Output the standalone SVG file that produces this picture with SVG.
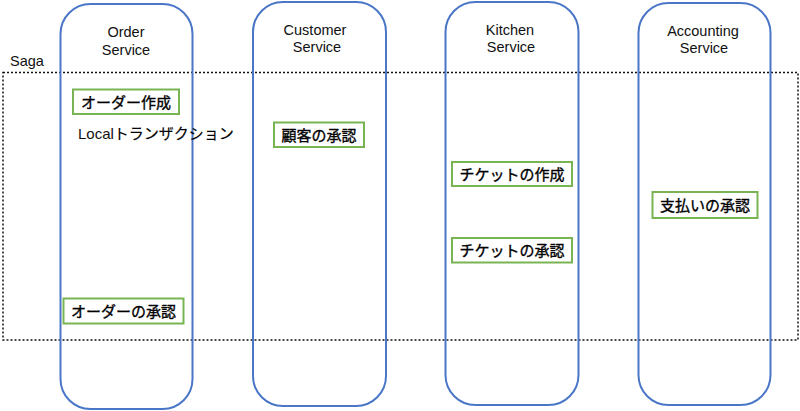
<svg xmlns="http://www.w3.org/2000/svg" width="800" height="411" viewBox="0 0 800 411">
<style>
.lane{fill:none;stroke:#4a76c8;stroke-width:2}
.box{fill:#fff;stroke:#78b454;stroke-width:2}
.t{font-family:"Liberation Sans","Noto Sans CJK JP",sans-serif;font-size:14.5px;fill:#111}
.j{font-family:"Noto Sans CJK JP",sans-serif;font-size:15px;font-weight:400;fill:#000;stroke:#000;stroke-width:0.35}
.c{text-anchor:middle}
.saga{fill:none;stroke:#111;stroke-width:1.5;stroke-dasharray:2 2}
</style>
<rect width="800" height="411" fill="#fff"/>
<g id="saga">
<rect class="saga" x="3" y="72.5" width="795" height="267.5"/>
<text class="t" x="10" y="66">Saga</text>
</g>
<g id="order-service">
<rect class="lane" x="60.5" y="4" width="132" height="405" rx="30"/>
<text class="t c" x="126" y="37">Order</text>
<text class="t c" x="126" y="55">Service</text>
</g>
<g id="customer-service">
<rect class="lane" x="253" y="2" width="133" height="404" rx="30"/>
<text class="t c" x="315" y="35">Customer</text>
<text class="t c" x="317" y="52">Service</text>
</g>
<g id="kitchen-service">
<rect class="lane" x="445.5" y="2" width="133" height="403" rx="30"/>
<text class="t c" x="510" y="35">Kitchen</text>
<text class="t c" x="511" y="52">Service</text>
</g>
<g id="accounting-service">
<rect class="lane" x="638.5" y="3" width="132" height="402" rx="30"/>
<text class="t c" x="703" y="36">Accounting</text>
<text class="t c" x="704" y="53">Service</text>
</g>
<g id="connectors"></g>
<g id="order-create">
<rect class="box" x="73" y="89.5" width="106" height="24.5"/>
<text class="j c" x="126" y="107.5">オーダー作成</text>
</g>
<g id="local-tx">
<text class="t" x="78" y="139" style="font-size:15px">Local<tspan class="j" style="stroke-width:0.15">トランザクション</tspan></text>
</g>
<g id="customer-approve">
<rect class="box" x="274" y="122.5" width="90" height="24.5"/>
<text class="j c" x="319" y="140.5">顧客の承認</text>
</g>
<g id="ticket-create">
<rect class="box" x="452" y="162" width="120" height="24"/>
<text class="j c" x="512" y="179.5">チケットの作成</text>
</g>
<g id="ticket-approve">
<rect class="box" x="452" y="238" width="120" height="24.5"/>
<text class="j c" x="512" y="255.5">チケットの承認</text>
</g>
<g id="payment-approve">
<rect class="box" x="652.5" y="192" width="105" height="26"/>
<text class="j c" x="705" y="210.5">支払いの承認</text>
</g>
<g id="order-approve">
<rect class="box" x="63.5" y="298.5" width="120" height="25"/>
<text class="j c" x="123.5" y="316.5">オーダーの承認</text>
</g>
</svg>
